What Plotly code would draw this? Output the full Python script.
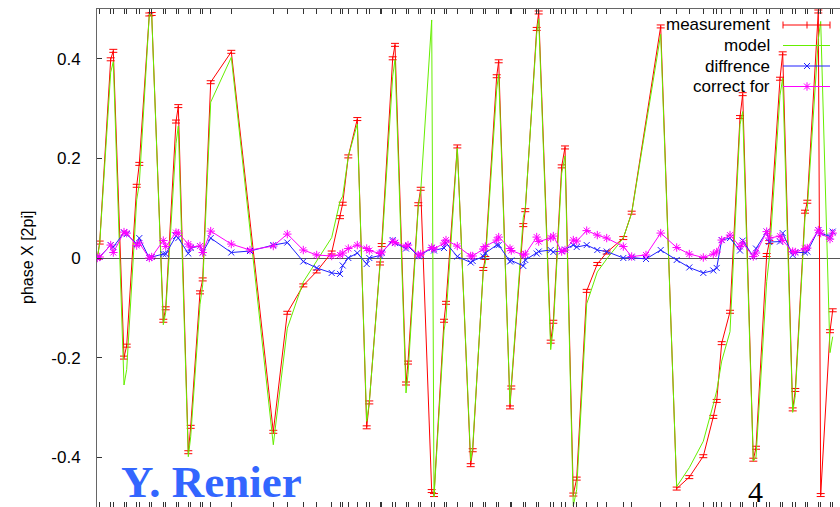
import plotly.graph_objects as go

# BPM longitudinal positions (arbitrary s units) used by measurement and model
s_bpm = [0.3, 2.7, 13.7, 16.3, 27.0, 29.7, 39.7, 42.3, 52.3, 54.7, 66.3, 68.7, 79.0, 81.3,
         91.3, 93.7, 103.0, 105.7, 113.7, 134.3, 176.3, 190.3, 206.3, 219.7, 234.7, 243.0,
         245.7, 251.3, 260.3, 269.7, 272.3, 283.0, 284.7, 295.7, 298.0, 309.0, 311.0, 321.3,
         323.7, 334.7, 337.0, 347.0, 349.0, 360.3, 373.7, 375.7, 386.3, 388.3, 399.7, 401.7,
         413.0, 414.3, 426.3, 428.3, 439.7, 441.7, 453.7, 456.3, 464.7, 468.0, 476.3, 479.7,
         489.7, 500.3, 509.7, 526.3, 534.7, 563.7, 579.7, 592.3, 606.3, 616.3, 619.7, 624.7,
         633.0, 643.0, 645.7, 656.3, 659.0, 669.7, 672.3, 683.0, 685.7, 695.7, 698.3, 708.0,
         710.3, 721.3, 723.7, 733.0, 735.7]

measurement = [0.000, 0.031, 0.399, 0.416, -0.200, -0.176, 0.145, 0.189, 0.489, 0.490, -0.126,
               -0.101, 0.274, 0.305, -0.390, -0.339, -0.069, -0.043, 0.353, 0.414, -0.349,
               -0.110, -0.055, -0.027, 0.011, 0.082, 0.109, 0.204, 0.279, -0.340, -0.290,
               -0.011, 0.026, 0.401, 0.428, -0.252, -0.210, 0.108, 0.139, -0.468, -0.476,
               -0.126, -0.090, 0.224, -0.416, -0.386, -0.022, 0.000, 0.365, 0.395, -0.300,
               -0.260, 0.066, 0.096, 0.460, 0.493, -0.168, -0.128, 0.184, 0.222, -0.475,
               -0.443, -0.066, -0.012, 0.011, 0.040, 0.091, 0.465, -0.463, -0.440, -0.398,
               -0.319, -0.287, -0.171, -0.108, 0.283, 0.329, -0.405, -0.381, 0.006, 0.032,
               0.360, 0.411, -0.304, -0.265, 0.093, 0.113, 0.495, -0.476, -0.147, -0.105]

model = [0.000, 0.029, 0.373, 0.394, -0.255, -0.224, 0.117, 0.149, 0.489, 0.488, -0.134,
         -0.109, 0.230, 0.265, -0.399, -0.359, -0.093, -0.054, 0.313, 0.403, -0.375, -0.141,
         -0.048, -0.007, 0.041, 0.114, 0.124, 0.204, 0.269, -0.328, -0.290, -0.016, 0.016,
         0.365, 0.398, -0.271, -0.234, 0.104, 0.133, 0.478, -0.480, -0.146, -0.120, 0.221,
         -0.407, -0.380, -0.025, -0.010, 0.339, 0.369, -0.293, -0.255, 0.082, 0.100, 0.451,
         0.480, -0.184, -0.140, 0.170, 0.205, -0.498, -0.465, -0.092, -0.028, -0.002, 0.040,
         0.090, 0.449, -0.459, -0.421, -0.368, -0.294, -0.267, -0.207, -0.148, 0.268, 0.294,
         -0.408, -0.400, -0.047, 0.000, 0.327, 0.361, -0.310, -0.276, 0.082, 0.100, 0.439,
         0.475, -0.190, -0.158]

# positions of the difference / correction points
s_diff = [0.3, 2.7, 13.7, 16.3, 27.0, 29.7, 39.7, 42.3, 52.3, 54.7, 66.3, 68.7, 79.0, 81.3,
          91.3, 93.7, 103.0, 105.7, 113.7, 134.3, 153.0, 176.3, 190.3, 206.3, 219.7, 234.7,
          243.0, 245.7, 251.3, 260.3, 269.7, 272.3, 283.0, 284.7, 295.7, 298.0, 309.0, 311.0,
          321.3, 323.7, 334.7, 337.0, 347.0, 349.0, 360.3, 373.7, 375.7, 386.3, 388.3, 399.7,
          401.7, 413.0, 414.3, 426.3, 428.3, 439.7, 441.7, 453.7, 456.3, 464.7, 468.0, 476.3,
          479.7, 489.7, 500.3, 509.7, 526.3, 534.7, 549.0, 563.7, 579.7, 592.3, 606.3, 616.3,
          619.7, 624.7, 633.0, 643.0, 645.7, 656.3, 659.0, 669.7, 672.3, 683.0, 685.7, 695.7,
          698.3, 708.0, 710.3, 721.3, 723.7, 733.0, 735.7]

difference = [0.000, 0.002, 0.026, 0.022, 0.051, 0.048, 0.028, 0.040, 0.000, 0.002, 0.008,
              0.008, 0.044, 0.040, 0.009, 0.020, 0.024, 0.011, 0.040, 0.011, 0.014, 0.026,
              0.031, -0.007, -0.020, -0.030, -0.032, -0.015, 0.000, 0.010, -0.012, 0.000,
              0.005, 0.010, 0.036, 0.030, 0.019, 0.024, 0.004, 0.006, 0.020, 0.015, 0.020,
              0.030, 0.003, -0.009, -0.006, 0.003, 0.010, 0.026, 0.026, -0.007, -0.005,
              -0.016, -0.004, 0.009, 0.013, 0.016, 0.012, 0.014, 0.017, 0.026, 0.022, 0.026,
              0.016, 0.013, 0.000, 0.001, -0.002, 0.016, -0.004, -0.019, -0.030, -0.025,
              -0.020, 0.036, 0.040, 0.015, 0.035, 0.003, 0.019, 0.053, 0.032, 0.033, 0.050,
              0.006, 0.011, 0.011, 0.013, 0.056, 0.050, 0.043, 0.053]

correct_for = [0.000, 0.002, 0.026, 0.011, 0.052, 0.050, 0.025, 0.030, 0.000, 0.002, 0.035,
               0.023, 0.051, 0.050, 0.028, 0.022, 0.024, 0.011, 0.054, 0.028, 0.016, 0.024,
               0.048, 0.016, 0.006, 0.004, 0.006, 0.010, 0.019, 0.026, 0.019, 0.015, 0.009,
               0.012, 0.033, 0.031, 0.023, 0.026, 0.006, 0.008, 0.021, 0.018, 0.030, 0.036,
               0.024, 0.004, 0.004, 0.018, 0.023, 0.036, 0.042, 0.019, 0.015, 0.006, 0.008,
               0.042, 0.033, 0.040, 0.044, 0.013, 0.016, 0.036, 0.034, 0.055, 0.046, 0.040,
               0.023, 0.003, 0.006, 0.050, 0.021, 0.008, 0.001, 0.008, 0.012, 0.036, 0.046,
               0.023, 0.030, 0.003, 0.010, 0.053, 0.040, 0.044, 0.035, 0.013, 0.012, 0.019,
               0.020, 0.056, 0.050, 0.038, 0.050]

y_ticks = [-0.4, -0.2, 0, 0.2, 0.4]
y_ticktext = ["-0.4", "-0.2", "0", "0.2", "0.4"]
legend_names = ["measurement", "model", "diffrence", "correct for"]

RED = "#ff0000"
GREEN = "#66ee00"
BLUE = "#2020ff"
MAGENTA = "#ff00ff"
FONT = "Liberation Sans, Arial, sans-serif"

W, H = 840, 507
L, T = 97, 9
PW, PH = W - L, H - T


def px(x):
    return (x - L) / PW


def py(y):
    return (H - y) / PH


fig = go.Figure()
fig.add_trace(go.Scatter(
    x=s_bpm, y=measurement, mode="lines", name=legend_names[0],
    line=dict(color=RED, width=1),
    error_y=dict(type="constant", value=0.003, color=RED, thickness=1, width=4)))
fig.add_trace(go.Scatter(
    x=s_bpm, y=model, mode="lines", name=legend_names[1],
    line=dict(color=GREEN, width=1)))
fig.add_trace(go.Scatter(
    x=s_diff, y=difference, mode="lines+markers", name=legend_names[2],
    line=dict(color=BLUE, width=1),
    marker=dict(symbol="x-thin-open", size=6, color=BLUE, line=dict(color=BLUE, width=1))))
fig.add_trace(go.Scatter(
    x=s_diff, y=correct_for, mode="lines+markers", name=legend_names[3],
    line=dict(color=MAGENTA, width=1),
    marker=dict(symbol="asterisk-open", size=7, color=MAGENTA,
                line=dict(color=MAGENTA, width=1))))

# legend samples (gnuplot style: text left, sample right)
rows = [25, 45.5, 66, 86.5]
colors = [RED, GREEN, BLUE, MAGENTA]
x0, x1, xm = 783, 830, 807
for name, yy, c in zip(legend_names, rows, colors):
    fig.add_annotation(x=px(772), y=py(yy), xref="paper", yref="paper", text=name,
                       showarrow=False, xanchor="right", yanchor="middle",
                       font=dict(family=FONT, size=17, color="black"))
    fig.add_shape(type="line", xref="paper", yref="paper", x0=px(x0), x1=px(x1),
                  y0=py(yy), y1=py(yy), line=dict(color=c, width=1))
# error-bar style ends on measurement sample
for xx in (x0, xm, x1):
    fig.add_shape(type="line", xref="paper", yref="paper", x0=px(xx), x1=px(xx),
                  y0=py(rows[0] - 3.5), y1=py(rows[0] + 3.5), line=dict(color=RED, width=1))
fig.add_trace(go.Scatter(
    x=[px(xm)], y=[py(rows[2])], xaxis="x3", yaxis="y3", mode="markers", showlegend=False,
    marker=dict(symbol="x-thin-open", size=6, color=BLUE, line=dict(color=BLUE, width=1))))
fig.add_trace(go.Scatter(
    x=[px(xm)], y=[py(rows[3])], xaxis="x3", yaxis="y3", mode="markers", showlegend=False,
    marker=dict(symbol="asterisk-open", size=7, color=MAGENTA,
                line=dict(color=MAGENTA, width=1))))

# y axis title
fig.add_annotation(x=px(27), y=0.5, xref="paper", yref="paper", text="phase X [2pi]",
                   textangle=-90, showarrow=False, xanchor="center", yanchor="middle",
                   font=dict(family=FONT, size=16, color="black"))
# author / page marks
fig.add_annotation(x=px(119), y=py(482), xref="paper", yref="paper", text="<b>Y. Renier</b>",
                   showarrow=False, xanchor="left", yanchor="middle",
                   font=dict(family="Liberation Serif, Times New Roman, serif", size=45,
                             color="#3366ff"))
fig.add_annotation(x=px(755), y=py(491), xref="paper", yref="paper", text="4",
                   showarrow=False, xanchor="center", yanchor="middle",
                   font=dict(family="Liberation Serif, Times New Roman, serif", size=30,
                             color="black"))

fig.update_layout(
    width=W, height=H,
    margin=dict(l=L, r=0, t=T, b=0, pad=0),
    paper_bgcolor="white", plot_bgcolor="white",
    showlegend=False,
    font=dict(family=FONT, size=17, color="black"),
    xaxis=dict(range=[0, PW], showgrid=False, zeroline=False, showline=False,
               tickmode="array", tickvals=s_bpm, ticks="inside", ticklen=5,
               tickcolor="#333", tickwidth=1, showticklabels=False),
    xaxis2=dict(overlaying="x", matches="x", side="top", showgrid=False, zeroline=False,
                showline=True, linecolor="#666", linewidth=1,
                tickmode="array", tickvals=s_bpm, ticks="inside", ticklen=5,
                tickcolor="#333", tickwidth=1, showticklabels=False),
    yaxis=dict(range=[-0.5, 0.5], showgrid=False, zeroline=True, zerolinecolor="#555",
               zerolinewidth=1, showline=True, linecolor="#666", linewidth=1,
               tickmode="array", tickvals=y_ticks, ticktext=y_ticktext, ticks="inside",
               ticklen=5, tickcolor="#333", ticklabelstandoff=12,
               tickfont=dict(family=FONT, size=17, color="black")),
    xaxis3=dict(overlaying="x", range=[0, 1], visible=False),
    yaxis3=dict(overlaying="y", range=[0, 1], visible=False),
)
# a dummy trace to show the top axis
fig.add_trace(go.Scatter(x=[s_bpm[0]], y=[0], xaxis="x2", mode="markers",
                         marker=dict(opacity=0), showlegend=False, hoverinfo="skip"))

fig.write_html("out.html", config={"displayModeBar": False},
               post_script="document.body.style.margin='0';"
               "document.body.style.overflow='hidden';")
